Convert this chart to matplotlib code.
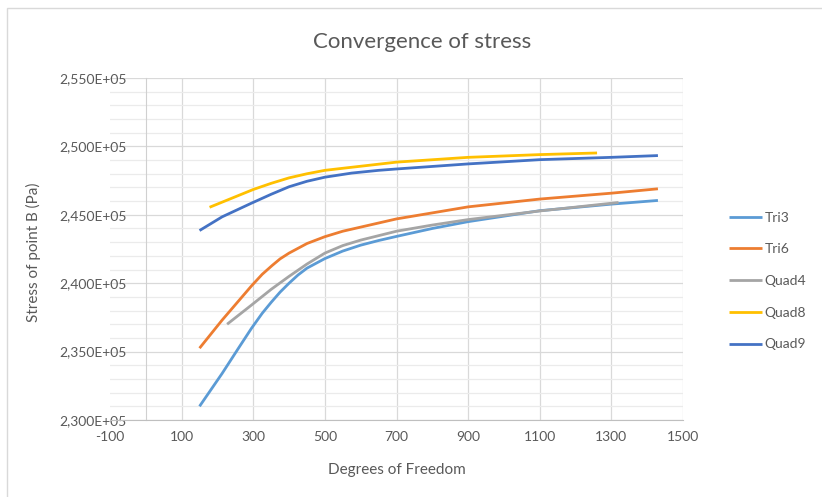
import matplotlib
matplotlib.use("Agg")
import matplotlib.pyplot as plt
from matplotlib.patches import Rectangle
from matplotlib.ticker import MultipleLocator, FuncFormatter

plt.rcParams['font.family'] = ['Lato', 'DejaVu Sans']
plt.rcParams['axes.unicode_minus'] = False

# values
tri3_dof = [150, 213, 260, 295, 325, 350, 375, 400, 425, 450, 500, 550, 600, 650, 700,
            800, 900, 1100, 1300, 1430]
tri3_stress = [231000, 233400, 235300, 236700, 237800, 238600, 239350, 240000, 240600,
               241100, 241800, 242350, 242780, 243120, 243420, 244000, 244500, 245300,
               245780, 246050]

tri6_dof = [150, 213, 295, 325, 353, 375, 400, 450, 500, 550, 650, 700, 900, 1100, 1300, 1430]
tri6_stress = [235250, 237300, 239800, 240650, 241300, 241780, 242200, 242900, 243400,
               243800, 244400, 244700, 245580, 246150, 246580, 246900]

quad4_dof = [227, 295, 350, 400, 450, 500, 550, 600, 700, 800, 900, 1100, 1320]
quad4_stress = [237000, 238400, 239550, 240500, 241400, 242200, 242750, 243150, 243800,
                244250, 244650, 245280, 245900]

quad8_dof = [178, 300, 350, 400, 450, 500, 650, 700, 900, 1100, 1260]
quad8_stress = [245550, 246850, 247300, 247700, 248000, 248250, 248700, 248850, 249200,
                249400, 249520]

quad9_dof = [150, 213, 295, 350, 400, 450, 500, 575, 650, 700, 900, 1100, 1300, 1430]
quad9_stress = [243850, 244850, 245850, 246500, 247050, 247450, 247750, 248050, 248250,
                248350, 248720, 249030, 249200, 249330]

series = [
    ("Tri3", tri3_dof, tri3_stress, "#5B9BD5"),
    ("Tri6", tri6_dof, tri6_stress, "#ED7D31"),
    ("Quad4", quad4_dof, quad4_stress, "#A5A5A5"),
    ("Quad8", quad8_dof, quad8_stress, "#FFC000"),
    ("Quad9", quad9_dof, quad9_stress, "#4472C4"),
]

x_ticks = list(range(-100, 1501, 200))

W, H = 822, 497
fig = plt.figure(figsize=(W / 100, H / 100), dpi=100)
ax = fig.add_axes([110 / W, 1 - 420 / H, (683 - 110) / W, (420 - 78) / H])

for name, x, y, c in series:
    ax.plot(x, y, color=c, lw=2, label=name, solid_capstyle='butt', solid_joinstyle='round')

ax.set_xlim(-100, 1500)
ax.set_ylim(230000, 255000)
ax.set_xticks(x_ticks)
ax.yaxis.set_major_locator(MultipleLocator(5000))
ax.yaxis.set_minor_locator(MultipleLocator(1000))
ax.yaxis.set_major_formatter(FuncFormatter(lambda v, p: f"{v / 1e5:.3f}E+05".replace('.', ',')))

ax.grid(True, which='major', color='#D9D9D9', lw=0.9)
ax.grid(True, which='minor', axis='y', color='#EBEBEB', lw=0.9)
ax.set_axisbelow(True)
ax.get_xgridlines()[0].set_visible(False)

for s in ['top', 'right']:
    ax.spines[s].set_visible(False)
ax.spines['left'].set_position(('data', 0))
ax.spines['left'].set_color('#D0D0D0')
ax.spines['bottom'].set_color('#BFBFBF')
ax.tick_params(axis='y', which='both', length=0, pad=14, labelsize=10, labelcolor='#595959')
ax.tick_params(axis='x', length=0, pad=8, labelsize=10, labelcolor='#595959')

ax.set_xlabel("Degrees of Freedom", fontsize=11, color='#595959', labelpad=14)
fig.text(33 / W, 1 - 252 / H, "Stress of point B (Pa)", rotation=90, fontsize=11,
         color='#595959', ha='center', va='center')
fig.text(422 / W, 1 - 42 / H, "Convergence of stress", fontsize=16, color='#595959',
         ha='center', va='center')

fig.legend(loc='center left', bbox_to_anchor=(722 / W, 1 - 281 / H), frameon=False,
           fontsize=10, handlelength=2.4, handletextpad=0.15, labelspacing=1.42,
           borderpad=0, labelcolor='#595959')

fig.add_artist(Rectangle((7 / W, -0.1), 1.2, (1 - 8 / H) + 0.1, fill=False,
                         edgecolor='#D9D9D9', lw=1, transform=fig.transFigure))

fig.savefig("out.png", dpi=100)
